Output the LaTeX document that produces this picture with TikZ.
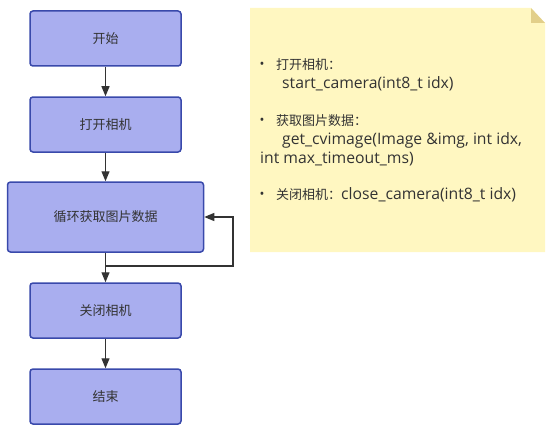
\documentclass[tikz,border=0pt]{standalone}
\usepackage{fontspec}
\setmainfont{Noto Sans CJK SC}
\newfontfamily\lat[Scale=1.21]{Open Sans}
\newfontfamily\bul{Open Sans}
\usetikzlibrary{arrows.meta}
\definecolor{boxfill}{RGB}{169,174,239}
\definecolor{boxdraw}{RGB}{57,73,171}
\definecolor{textc}{RGB}{51,51,51}
\definecolor{notefill}{RGB}{255,247,193}
\definecolor{notefold}{RGB}{226,207,138}
\definecolor{arrc}{RGB}{51,51,51}
\begin{document}
\begin{tikzpicture}[x=1pt,y=1pt]
\useasboundingbox (0,0) rectangle (556,432);
\tikzset{
  proc/.style={draw=boxdraw, fill=boxfill, line width=1.5pt, rounded corners=3pt,
    minimum width=151pt, minimum height=55pt, inner sep=0pt,
    font=\fontsize{13}{15}\selectfont, text=textc},
  arr/.style={draw=arrc, line width=1.2pt, -{Triangle[length=10pt,width=8pt]}},
  notetxt/.style={anchor=west, inner sep=0pt, font=\fontsize{13}{15}\selectfont, text=textc},
  bullet/.style={anchor=center, inner sep=0pt, font=\bul\fontsize{13}{15}\selectfont, text=textc}
}
% note
\path[fill=notefill] (250,424) -- (531,424) -- (545,409) -- (545,180) -- (250,180) -- cycle;
\path[fill=notefold] (531,424) -- (531,409) -- (545,409) -- cycle;
\node[bullet] (b1) at (262,367) {•};
\node[notetxt] (t1) at (276,367) {打开相机：};
\node[notetxt] (t2) at (282,348) {\lat start\_camera(int8\_t idx)};
\node[bullet] (b2) at (262,311) {•};
\node[notetxt] (t3) at (276,311) {获取图片数据：};
\node[notetxt] (t4) at (282,292) {\lat get\_cvimage(Image \&img, int idx,};
\node[notetxt] (t5) at (260,273) {\lat int max\_timeout\_ms)};
\node[bullet] (b3) at (262,237) {•};
\node[notetxt] (t6) at (276,237) {关闭相机：{\lat close\_camera(int8\_t idx)}};
% flow
\node[proc] (s) at (105.5,393.5) {开始};
\node[proc] (o) at (105.5,307.5) {打开相机};
\node[proc, minimum width=196pt, minimum height=70pt] (g) at (105.5,215) {循环获取图片数据};
\node[proc] (c) at (105.5,121.5) {关闭相机};
\node[proc] (e) at (105.5,35.5) {结束};
\coordinate (j) at (105.5,166);
\coordinate (r) at (233,215);
\draw[arr] (s) -- (o);
\draw[arr] (o) -- (g);
\draw[arr] (g) -- (c);
\draw[arr] (j) -| (r) -- (g.east);
\draw[arr] (c) -- (e);
\end{tikzpicture}
\end{document}
